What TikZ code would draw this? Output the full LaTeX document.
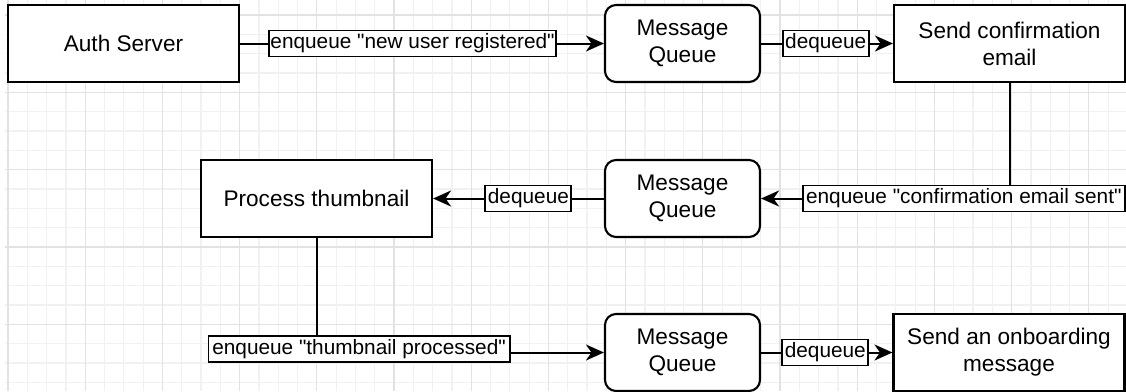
\documentclass[tikz,border=0pt]{standalone}
\usepackage{fontspec}
\setmainfont{Liberation Sans}
\newfontfamily\arialfam{Liberation Sans}
\usetikzlibrary{arrows.meta}
\definecolor{gridminor}{RGB}{241,241,241}
\definecolor{gridmajor}{RGB}{226,226,226}
\begin{document}
\begin{tikzpicture}[x=1pt,y=-1pt,
  box/.style={draw=black, line width=2.1pt, fill=white, minimum width=231pt, minimum height=77pt,
    inner sep=0pt, font=\arialfam\fontsize{22.6}{27}\selectfont, align=center},
  queue/.style={box, rounded corners=11pt, minimum width=155pt},
  lbl/.style={draw=black, line width=1.9pt, fill=white, font=\arialfam\fontsize{20.8}{24}\selectfont,
    inner xsep=1.5pt, inner ysep=0pt, text height=15.5pt, text depth=5pt, minimum height=26pt},
  conn/.style={line width=2pt, draw=black, -{Stealth[length=18pt,width=16pt,inset=5.5pt]}},
  minorline/.style={draw=gridminor, line width=1.2pt},
  majorline/.style={draw=gridmajor, line width=1.3pt},
]
\useasboundingbox (0,0) rectangle (1126,391);
\fill[white] (0,0) rectangle (1126,391);
% grid
\foreach \i in {0,...,58} \draw[minorline] ({8+19.3*\i},0) -- ({8+19.3*\i},391);
\foreach \j in {0,...,19} \draw[minorline] (5,{15+19.33*\j}) -- (1126,{15+19.33*\j});
\foreach \i in {0,...,14} \draw[majorline] ({8+77.2*\i},0) -- ({8+77.2*\i},391);
\foreach \j in {0,...,4} \draw[majorline] (5,{15+77.32*\j}) -- (1126,{15+77.32*\j});

% nodes
\node[box] (auth) at (123.5,43.5) {Auth Server};
\node[queue] (mq1) at (682.5,43.5) {Message\\Queue};
\node[box] (sce) at (1009.5,43.5) {Send confirmation\\email};
\node[queue] (mq2) at (682.5,198.5) {Message\\Queue};
\node[box] (pt) at (316.5,198.5) {Process thumbnail};
\node[queue] (mq3) at (682.5,352.5) {Message\\Queue};
\node[box] (onb) at (1009,352.5) {Send an onboarding\\message};

% connectors
\draw[conn] (auth) -- node[lbl, pos=0.474] (l1) {enqueue "new user registered"} (mq1);
\draw[conn] (mq1) -- node[lbl, pos=0.49, minimum width=86pt] (l2) {dequeue} (sce);
\draw[conn] (sce.south) |- node[lbl, pos=0.592, minimum width=322pt] (l3) {enqueue "confirmation email sent"} (mq2.east);
\draw[conn] (mq2) -- node[lbl, pos=0.442, minimum width=86pt] (l4) {dequeue} (pt);
\draw[conn] (pt.south) |- node[lbl, pos=0.574, yshift=3.5pt, minimum width=301pt] (l5) {enqueue "thumbnail processed"} (mq3.west);
\draw[conn] (mq3) -- node[lbl, pos=0.489, minimum width=86pt] (l6) {dequeue} (onb);
\end{tikzpicture}
\end{document}
